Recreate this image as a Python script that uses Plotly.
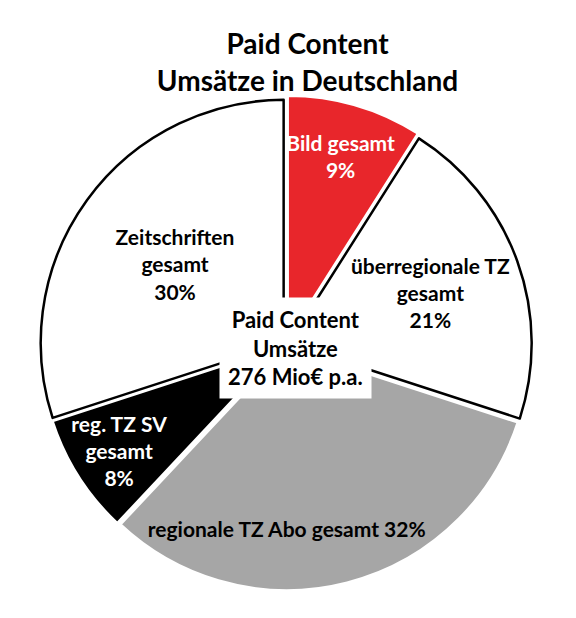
import plotly.graph_objects as go

# Paid Content Umsätze, Anteile in %
segments = ["Bild gesamt", "überregionale TZ<br>gesamt", "regionale TZ Abo gesamt",
            "reg. TZ SV<br>gesamt", "Zeitschriften<br>gesamt"]
shares = [9, 21, 32, 8, 30]
fill_colors = ["#E8262B", "#FFFFFF", "#A6A6A6", "#000000", "#FFFFFF"]
edge_colors = ["#FFFFFF", "#000000", "#FFFFFF", "#FFFFFF", "#000000"]
label_colors = ["#FFFFFF", "#000000", "#000000", "#FFFFFF", "#000000"]
label_templates = ["<b>%{label}<br>%{value}%</b>", "<b>%{label}<br>%{value}%</b>",
                   "<b>%{label} %{value}%</b>", "<b>%{label}<br>%{value}%</b>",
                   "<b>%{label}<br>%{value}%</b>"]

fig = go.Figure(go.Pie(
    labels=segments,
    values=shares,
    sort=False,
    direction="clockwise",
    rotation=0,
    pull=[0.025, 0.012, 0.012, 0.012, 0.012],
    marker=dict(colors=fill_colors, line=dict(color=edge_colors, width=2.5)),
    texttemplate=label_templates,
    textposition="inside",
    insidetextorientation="horizontal",
    textfont=dict(family="Lato, Open Sans, sans-serif", size=21, color=label_colors),
    showlegend=False,
    hoverinfo="label+percent",
))

fig.update_layout(
    title=dict(text="<b>Paid Content<br>Umsätze in Deutschland</b>",
               x=0.52, xanchor="center", y=0.925, yanchor="top",
               font=dict(family="Lato, Open Sans, sans-serif", size=28, color="#000000")),
    uniformtext=dict(minsize=21, mode="show"),
    annotations=[dict(text="<b>Paid Content<br>Umsätze<br>276 Mio€ p.a.</b>",
                      x=0.52, y=0.493, xref="paper", yref="paper", showarrow=False,
                      bgcolor="#FFFFFF", borderpad=8,
                      font=dict(family="Lato, Open Sans, sans-serif", size=22, color="#000000"))],
    margin=dict(l=29, r=49, t=87, b=32),
    width=576, height=618,
    paper_bgcolor="#FFFFFF",
)

fig.write_html("out.html")
